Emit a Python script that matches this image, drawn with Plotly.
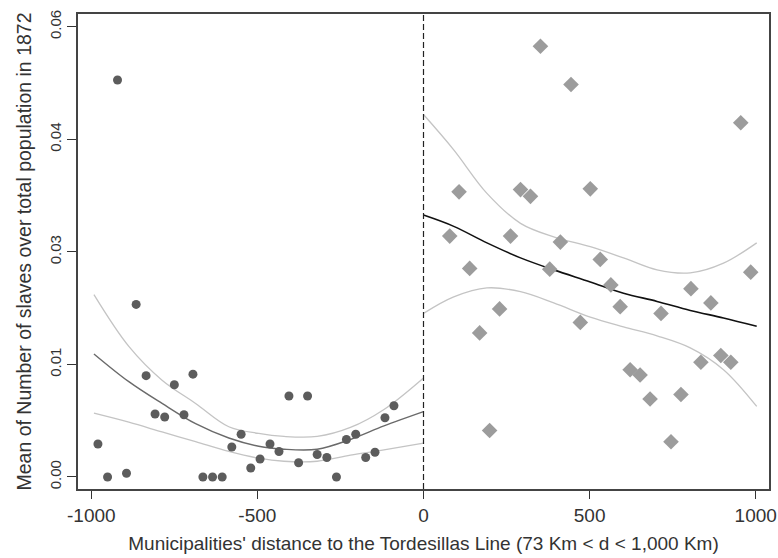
import plotly.graph_objects as go

# Municipalities west of the line (negative distance)
west_dist = [-980, -951, -921, -894, -865, -835, -808, -779, -750, -721, -694,
             -664, -635, -606, -577, -549, -520, -492, -462, -435, -405, -376,
             -349, -320, -291, -262, -232, -204, -174, -146, -116, -89]
west_share = [0.0044, 0.0000, 0.0529, 0.0005, 0.0230, 0.0135, 0.0084, 0.0080,
              0.0123, 0.0083, 0.0137, 0.0000, 0.0000, 0.0000, 0.0040, 0.0057,
              0.0012, 0.0024, 0.0044, 0.0034, 0.0108, 0.0019, 0.0108, 0.0030,
              0.0026, 0.0000, 0.0050, 0.0057, 0.0026, 0.0033, 0.0079, 0.0095]

# Municipalities east of the line (positive distance)
east_dist = [79, 107, 139, 169, 199, 229, 262, 292, 322, 352, 380, 412, 444,
             472, 502, 532, 564, 592, 622, 652, 682, 715, 745, 775, 805, 835,
             865, 895, 925, 955, 985]
east_share = [0.0321, 0.0380, 0.0278, 0.0192, 0.0062, 0.0224, 0.0321, 0.0383,
              0.0374, 0.0574, 0.0277, 0.0313, 0.0523, 0.0206, 0.0384, 0.0290,
              0.0256, 0.0227, 0.0143, 0.0136, 0.0104, 0.0218, 0.0047, 0.0110,
              0.0251, 0.0153, 0.0232, 0.0162, 0.0153, 0.0472, 0.0273]

# Fitted curve and 95% band, west side
west_fit_x = [-992, -887, -787, -686, -586, -496, -420, -320, -220, -119, 0]
west_fit = [0.0164, 0.0127, 0.0098, 0.0071, 0.0052, 0.0041, 0.0037, 0.0037,
            0.0050, 0.0068, 0.0087]
west_hi = [0.0243, 0.0174, 0.0129, 0.0098, 0.0067, 0.0058, 0.0054, 0.0054,
           0.0066, 0.0090, 0.0132]
west_lo = [0.0085, 0.0073, 0.0060, 0.0047, 0.0034, 0.0025, 0.0021, 0.0021,
           0.0029, 0.0036, 0.0045]

# Fitted curve and 95% band, east side
east_fit_x = [0, 91, 191, 292, 392, 502, 602, 703, 803, 903, 1003]
east_fit = [0.0349, 0.0334, 0.0312, 0.0292, 0.0276, 0.0260, 0.0245, 0.0234,
            0.0222, 0.0212, 0.0201]
east_hi = [0.0483, 0.0436, 0.0378, 0.0338, 0.0320, 0.0307, 0.0292, 0.0276,
           0.0272, 0.0285, 0.0312]
east_lo = [0.0218, 0.0240, 0.0252, 0.0247, 0.0232, 0.0213, 0.0200, 0.0188,
           0.0172, 0.0143, 0.0094]

y_tickvals = [0.0, 0.015, 0.03, 0.045, 0.06]
y_ticktext = ["0.00", "0.01", "0.03", "0.04", "0.06"]
x_tickvals = [-1000, -500, 0, 500, 1000]
x_ticktext = ["-1000", "-500", "0", "500", "1000"]

band_color = "#c4c4c4"
font_family = "Liberation Sans, Arial, sans-serif"

fig = go.Figure()

for ys in (west_hi, west_lo):
    fig.add_trace(go.Scatter(x=west_fit_x, y=ys, mode="lines",
                             line=dict(color=band_color, width=1.3, shape="spline"),
                             hoverinfo="skip"))
fig.add_trace(go.Scatter(x=west_fit_x, y=west_fit, mode="lines",
                         line=dict(color="#6a6a6a", width=1.4, shape="spline")))

for ys in (east_hi, east_lo):
    fig.add_trace(go.Scatter(x=east_fit_x, y=ys, mode="lines",
                             line=dict(color=band_color, width=1.3, shape="spline"),
                             hoverinfo="skip"))
fig.add_trace(go.Scatter(x=east_fit_x, y=east_fit, mode="lines",
                         line=dict(color="#111111", width=1.6, shape="spline")))

fig.add_trace(go.Scatter(x=west_dist, y=west_share, mode="markers",
                         marker=dict(symbol="circle", size=9, color="#5c5c5c")))
fig.add_trace(go.Scatter(x=east_dist, y=east_share, mode="markers",
                         marker=dict(symbol="diamond", size=12, color="#9c9c9c")))

# Cutoff at the Tordesillas Line
fig.add_shape(type="line", xref="x", yref="paper", x0=0, x1=0, y0=0, y1=1,
              line=dict(color="#222222", width=1.2, dash="6px,3px"))

fig.update_layout(
    width=778, height=558,
    margin=dict(l=78, r=9, t=14, b=69),
    paper_bgcolor="white", plot_bgcolor="white",
    showlegend=False,
    font=dict(family=font_family, color="#333333", size=19),
)
fig.update_xaxes(
    range=[-1040, 1040], tickvals=x_tickvals, ticktext=x_ticktext,
    ticks="outside", ticklen=8, tickcolor="#333333", tickwidth=1.2,
    showgrid=False, zeroline=False,
    showline=True, linecolor="#444444", linewidth=1.5, mirror=True,
    tickfont=dict(size=19), automargin=False,
    title=dict(text="Municipalities' distance to the Tordesillas Line (73 Km < d < 1,000 Km)",
               font=dict(size=19), standoff=12),
)
fig.update_yaxes(
    range=[-0.0016, 0.0617], tickvals=y_tickvals, ticktext=y_ticktext,
    ticks="outside", ticklen=9, tickcolor="#333333", tickwidth=1.2, tickangle=-90,
    showgrid=False, zeroline=False,
    showline=True, linecolor="#444444", linewidth=1.5, mirror=True,
    tickfont=dict(size=15), automargin=False,
    title=dict(text="Mean of Number of slaves over total population in 1872",
               font=dict(size=19.5), standoff=10),
)

fig.write_html("out.html")
